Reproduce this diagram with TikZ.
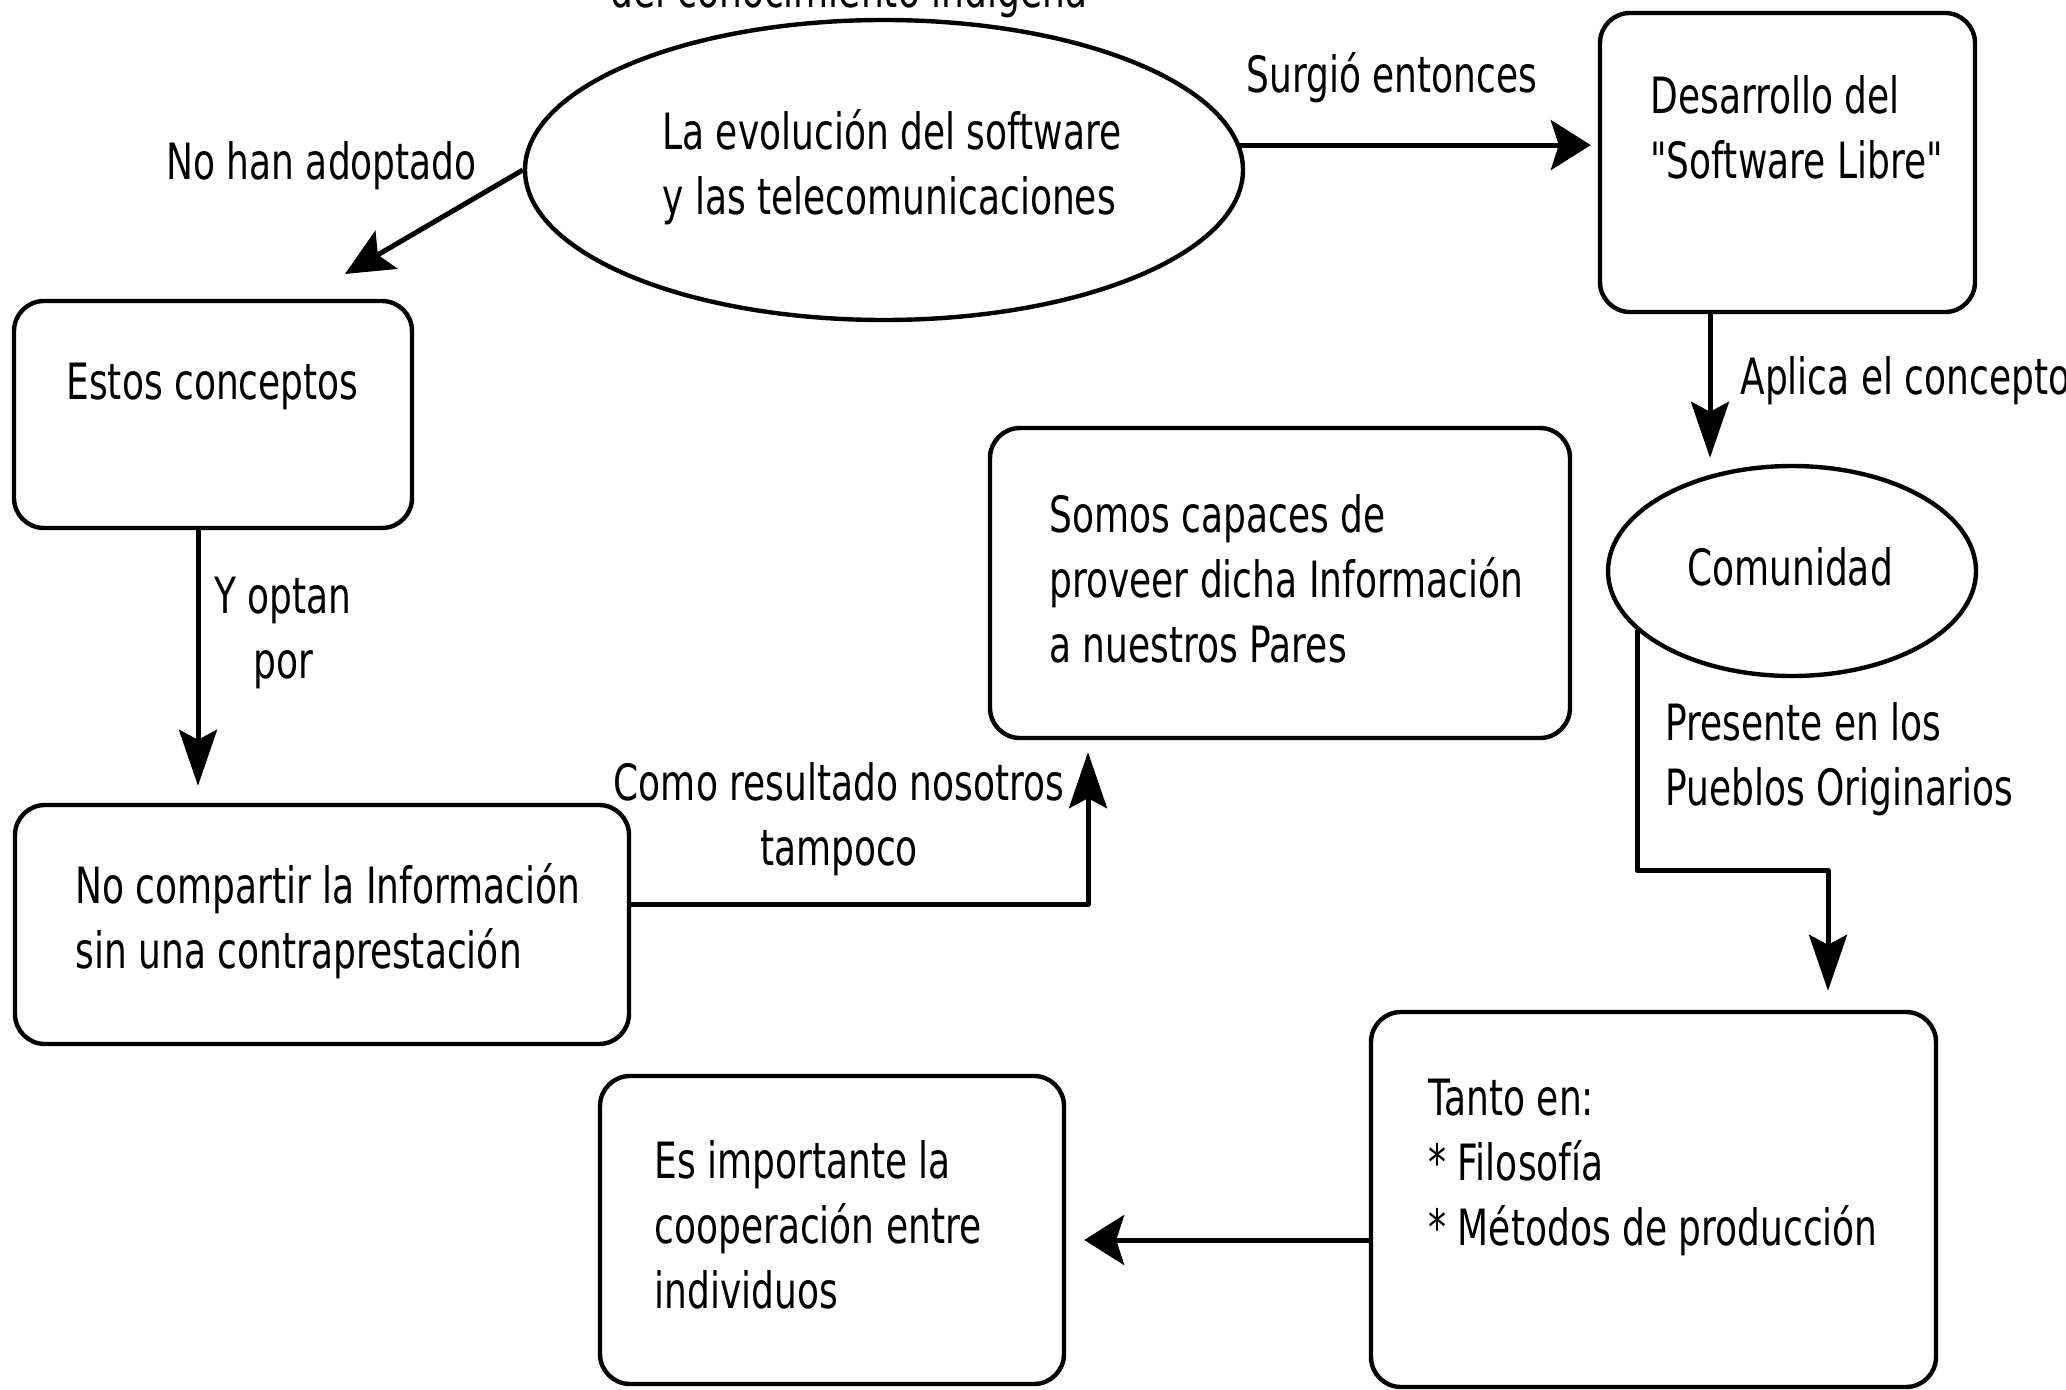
\documentclass[tikz,border=0pt]{standalone}
\usepackage{fontspec}
\setmainfont{DejaVu Sans}[FakeStretch=0.72, Ligatures=TeXOff]
\usetikzlibrary{shapes.geometric,arrows.meta}
\newcommand{\txtL}[1]{\vtop{\halign{##\hfil\cr#1\crcr}}}
\newcommand{\txtC}[1]{\vtop{\halign{\hfil##\hfil\cr#1\crcr}}}
\begin{document}
\begin{tikzpicture}[x=0.5pt,y=-0.5pt,
  font=\fontsize{25pt}{32.5pt}\selectfont, line join=round,
  box/.style={draw, line width=2.2pt, rounded corners=15pt, inner sep=0pt},
  oval/.style={draw, ellipse, line width=2.2pt, inner sep=0pt},
  txt/.style={inner sep=0pt, anchor=base west},
  ctxt/.style={inner sep=0pt, anchor=base},
  conn/.style={line width=2.5pt},
  arrH/.style={conn, -{Stealth[length=20pt,width=25pt,inset=4pt]}},
  arrV/.style={conn, -{Stealth[length=28pt,width=19pt,inset=5pt]}},
  arrD/.style={conn, -{Stealth[length=24pt,width=22pt,inset=5pt]}}]
\fill[white] (0,0) rectangle (2066,1390);
\useasboundingbox (0,0) rectangle (2066,1390);

% shapes
\node[oval, minimum width=359pt, minimum height=150pt] (ell1) at (884,170) {};
\node[box, minimum width=187.5pt, minimum height=149.5pt] (des) at (1787.5,162.5) {};
\node[oval, minimum width=184pt, minimum height=105pt] (com) at (1792,571) {};
\node[box, minimum width=282.5pt, minimum height=187.5pt] (tan) at (1653.5,1199.5) {};
\node[box, minimum width=232pt, minimum height=154pt] (es) at (832,1230) {};
\node[box, minimum width=290pt, minimum height=155pt] (som) at (1280,583) {};
\node[box, minimum width=199pt, minimum height=113.5pt] (est) at (213,414.5) {};
\node[box, minimum width=307pt, minimum height=119.5pt] (noc) at (322,924.5) {};

% texts in shapes
\node[ctxt] (topt) at (849,8) {del conocimiento indígena};
\node[txt] (ell1t) at (662,150) {\txtL{La evolución del software\cr y las telecomunicaciones}};
\node[txt] (dest) at (1650,114) {\txtL{Desarrollo del\cr "Software Libre"}};
\node[ctxt] (comt) at (1790,585) {Comunidad};
\node[txt] (tant) at (1428,1115) {\txtL{Tanto en:\cr * Filosofía\cr * Métodos de producción}};
\node[txt] (est2) at (654,1178) {\txtL{Es importante la\cr cooperación entre\cr individuos}};
\node[txt] (somt) at (1049,532) {\txtL{Somos capaces de\cr proveer dicha Información\cr a nuestros Pares}};
\node[txt] (estt) at (66,400) {Estos conceptos};
\node[txt] (noct) at (75,903) {\txtL{No compartir la Información\cr sin una contraprestación}};

% connector labels
\node[txt] (l1) at (1246,93) {Surgió entonces};
\node[txt] (l2) at (166,180) {No han adoptado};
\node[txt] (l3) at (1740,395) {Aplica el concepto};
\node[txt] (l4) at (1665,740) {\txtL{Presente en los\cr Pueblos Originarios}};
\node[ctxt] (l5) at (283,613) {\txtC{Y optan\cr por}};
\node[ctxt] (l6) at (839,800) {\txtC{Como resultado nosotros\cr tampoco}};

% connectors
\coordinate (t1) at (345,274);
\draw[arrH, shorten >=3.5pt] (ell1.4.4) -- (ell1.4.4 -| des.west);
\draw[arrD] (ell1.west) -- (t1);
\draw[arrV, shorten >=3pt] ([xshift=-38.75pt]des.south) -- ([xshift=-38.75pt]des.south |- com.north);
\draw[arrV, shorten >=9.5pt] (com.201.2) -- ++(0,240) -| ([xshift=87.25pt]tan.north);
\draw[arrH, shorten >=9pt] ([yshift=-20.25pt]tan.west) -- ([yshift=-20.25pt]tan.west -| es.east);
\draw[arrV, shorten >=8.5pt] ([xshift=-7.5pt]est.south) -- ([xshift=-7.5pt]est.south |- noc.north);
\draw[arrV, shorten >=6pt] ([yshift=10.25pt]noc.east) -| ([xshift=-96pt]som.south);
\end{tikzpicture}
\end{document}
